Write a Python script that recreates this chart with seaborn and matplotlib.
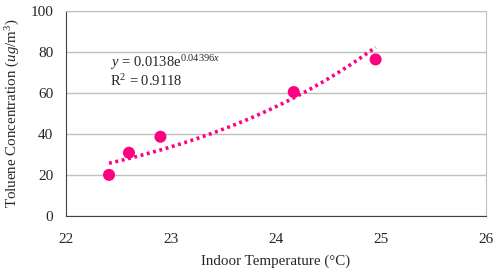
import seaborn as sns
import pandas as pd
import matplotlib.pyplot as plt
import numpy as np

# data
temperature = [22.41, 22.6, 22.9, 24.17, 24.95]
toluene = [20.1, 30.9, 38.7, 60.5, 76.4]
x_ticks = [22, 23, 24, 25, 26]
y_ticks = [0, 20, 40, 60, 80, 100]

df = pd.DataFrame({'temp': temperature, 'conc': toluene})

# exponential trend line fitted to the points
b, ln_a = np.polyfit(df['temp'], np.log(df['conc']), 1)
xs = np.linspace(min(temperature), max(temperature), 50)
trend = pd.DataFrame({'temp': xs, 'conc': np.exp(ln_a + b * xs)})

sns.set_style('white')
plt.rcParams['font.family'] = ['Liberation Serif', 'DejaVu Serif']
plt.rcParams['mathtext.fontset'] = 'custom'
plt.rcParams['mathtext.rm'] = 'Liberation Serif'
plt.rcParams['mathtext.it'] = 'Liberation Serif:italic'

pink = '#ff0080'
fig = plt.figure(figsize=(4.98, 2.76), dpi=100)
ax = fig.add_axes([0.1325, 0.217, 0.843, 0.743])

sns.lineplot(data=trend, x='temp', y='conc', ax=ax, color=pink,
             linewidth=2.6, linestyle=(0, (0.8, 1.0)), zorder=2)
sns.scatterplot(data=df, x='temp', y='conc', ax=ax, color=pink,
                s=75, edgecolor='none', zorder=3)

ax.set_xlim(22, 26)
ax.set_ylim(0, 100)
ax.set_xticks(x_ticks)
ax.set_yticks(y_ticks)
ax.yaxis.grid(True, color='#c0c0c0', linewidth=1)
ax.set_axisbelow(True)
for side in ['top', 'right']:
    ax.spines[side].set_color('#c0c0c0')
for side in ['left', 'bottom']:
    ax.spines[side].set_color('#404040')
ax.tick_params(axis='both', direction='out', length=5, width=0.8,
               color='#404040', labelsize=11)
ax.tick_params(axis='x', pad=7)
ax.tick_params(axis='y', length=6, pad=3)
ax.set_xlabel('Indoor Temperature (°C)', fontsize=10.8, labelpad=6)
ax.set_ylabel(r'Toluene Concentration ($\it{ug}$/m$^3$)', fontsize=10.8,
              labelpad=6)

ax.text(22.42, 75, r'$\it{y}$ = 0.0138e$^{0.04396x}$', fontsize=10.5,
        va='center')
ax.text(22.42, 66, r'R$^2$ = 0.9118', fontsize=10.5, va='center')

plt.savefig('out.png', dpi=100)
